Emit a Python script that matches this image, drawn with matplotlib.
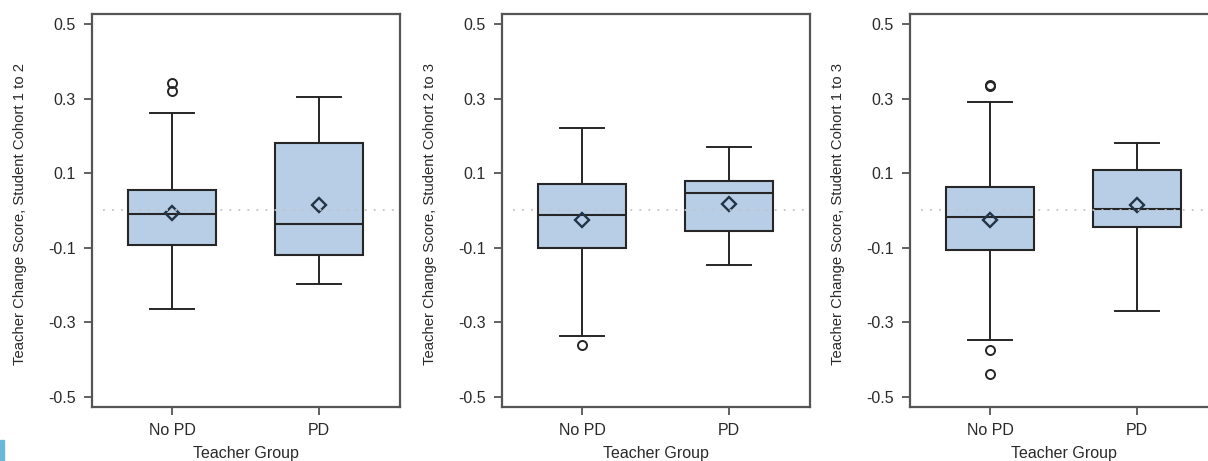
import matplotlib
matplotlib.use("Agg")
import matplotlib.pyplot as plt
from matplotlib.patches import Rectangle

plt.rcParams["font.family"] = ["Liberation Sans", "DejaVu Sans"]

groups = ["No PD", "PD"]
y_labels = [
    "Teacher Change Score, Student Cohort 1 to 2",
    "Teacher Change Score, Student Cohort 2 to 3",
    "Teacher Change Score, Student Cohort 1 to 3",
]
x_label = "Teacher Group"
y_ticks = [-0.5, -0.3, -0.1, 0.1, 0.3, 0.5]

# per panel: [No PD, PD]
whis_low = [[-0.264, -0.196], [-0.336, -0.145], [-0.348, -0.269]]
q1 = [[-0.093, -0.120], [-0.101, -0.054], [-0.105, -0.045]]
median = [[-0.009, -0.036], [-0.012, 0.048], [-0.018, 0.005]]
q3 = [[0.056, 0.182], [0.0715, 0.080], [0.064, 0.109]]
whis_high = [[0.262, 0.305], [0.221, 0.171], [0.291, 0.180]]
mean = [[-0.007, 0.014], [-0.025, 0.018], [-0.025, 0.015]]
outliers = [
    [[0.341, 0.321], []],
    [[-0.360], []],
    [[0.336, 0.334, -0.373, -0.438], []],
]

box_fill = "#b8cde6"
ink = "#262626"
frame = "#555555"

fig = plt.figure(figsize=(12.08, 4.61), dpi=100)

lefts = [92, 502, 910]
for i, left in enumerate(lefts):
    ax = fig.add_axes([left / 1208, 54 / 461, 308 / 1208, 393 / 461])
    stats = []
    for j in range(2):
        stats.append({
            "whislo": whis_low[i][j], "q1": q1[i][j], "med": median[i][j],
            "q3": q3[i][j], "whishi": whis_high[i][j], "mean": mean[i][j],
            "fliers": outliers[i][j],
        })
    # dotted reference line at zero
    ax.axhline(0, xmin=0.036, xmax=1, color="#c4c4c4", lw=1.3,
               ls=(0, (1, 4)), zorder=2.5)
    ax.bxp(stats, positions=[1, 2], widths=0.6, patch_artist=True,
           showmeans=True, showfliers=True,
           boxprops=dict(facecolor=box_fill, edgecolor=ink, linewidth=1.5),
           medianprops=dict(color=ink, linewidth=1.5),
           whiskerprops=dict(color=ink, linewidth=1.4),
           capprops=dict(color=ink, linewidth=1.4),
           capwidths=0.3,
           meanprops=dict(marker="D", markerfacecolor="none",
                          markeredgecolor="#243447", markeredgewidth=1.7,
                          markersize=7.5),
           flierprops=dict(marker="o", markerfacecolor="none",
                           markeredgecolor=ink, markeredgewidth=1.4,
                           markersize=6.5))
    ax.set_xlim(0.456, 2.551)
    ax.set_ylim(-0.527, 0.527)
    ax.set_yticks(y_ticks)
    ax.set_yticklabels([f"{t:.1f}" for t in y_ticks])
    ax.set_xticks([1, 2])
    ax.set_xticklabels(groups)
    ax.tick_params(axis="both", direction="out", length=5.5, width=1.3,
                   colors=frame, labelcolor="#2a2a2a", labelsize=11.5)
    ax.tick_params(axis="y", pad=6)
    ax.tick_params(axis="x", pad=6)
    for s in ax.spines.values():
        s.set_color(frame)
        s.set_linewidth(1.6)
    ax.set_ylabel(y_labels[i], fontsize=10.7, color="#2a2a2a")
    ax.yaxis.set_label_coords(-0.21, 0.49)
    ax.set_xlabel(x_label, fontsize=11.5, color="#2a2a2a", labelpad=6)

fig.patches.append(Rectangle((0, 0), 4 / 1208, 21 / 461,
                             transform=fig.transFigure, color="#6ab8d9"))

fig.savefig("out.png", dpi=100)
